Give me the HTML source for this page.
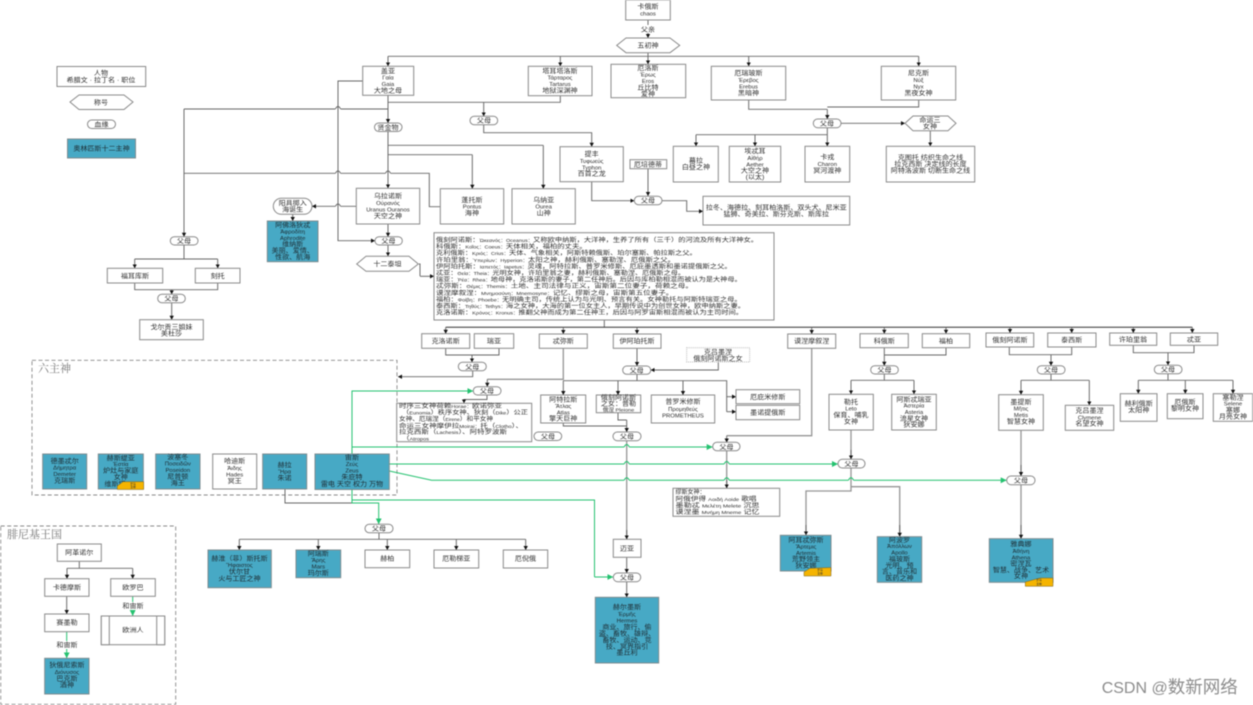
<!DOCTYPE html>
<html lang="zh">
<head>
<meta charset="utf-8">
<title>希腊神话谱系</title>
<style>
html,body{margin:0;padding:0;background:#fff;width:1253px;height:705px;overflow:hidden}
svg{display:block;filter:blur(.4px)}
text{font-family:"Liberation Sans","Noto Sans CJK SC",sans-serif;font-size:6.3px;fill:#2c2c2c;text-anchor:middle;transform-box:fill-box;transform-origin:center;transform:scaleX(1.12)}
.s{font-size:5.3px}
.x{font-size:4.5px}
.m text,text.f{font-size:6px;text-anchor:start;transform:none}
text.st{text-anchor:start;transform-origin:left center}
text.ti{text-anchor:start;transform:none;font-size:11px;fill:#777;font-family:"Liberation Serif","Noto Serif CJK SC",serif}
text.tag{font-size:2.8px;transform:none;fill:#333}
text.wm{text-anchor:start;transform:none;font-size:16px;fill:#8c8c8c}
.b rect,.b polygon{fill:#fff;stroke:#8a8a8a;stroke-width:1}
.u rect{fill:#47a9c5;stroke:#7f8c90;stroke-width:1}
.u text{fill:#1d2a30}
.l path{fill:none;stroke:#666;stroke-width:.95}
.a path{fill:none;stroke:#666;stroke-width:.95;marker-end:url(#k)}
.h path{fill:none;stroke:#959595;stroke-width:1.3}
.g path{fill:none;stroke:#25c270;stroke-width:1}
.ga path{fill:none;stroke:#25c270;stroke-width:1;marker-end:url(#gm)}
.t{fill:#f5b400;stroke:#77622a;stroke-width:.5}
</style>
</head>
<body>
<svg width="1253" height="705" viewBox="0 0 1253 705" xmlns="http://www.w3.org/2000/svg">
<defs>
<marker id="k" markerUnits="userSpaceOnUse" markerWidth="5" markerHeight="5" refX="4" refY="2.2" orient="auto"><path d="M0 0L4 2.2L0 4.4Z" fill="#111"/></marker>
<marker id="gm" markerUnits="userSpaceOnUse" markerWidth="7" markerHeight="7" refX="6" refY="3" orient="auto"><path d="M0 0L6 3L0 6Z" fill="#25c270"/></marker>
</defs>
<rect width="1253" height="705" fill="#fff"/>

<!-- dashed groups -->
<rect x="32" y="360.3" width="365" height="134.7" fill="none" stroke="#888" stroke-width=".9" stroke-dasharray="4 2.5"/>
<text x="38" y="372" class="ti">六主神</text>
<rect x=".7" y="526" width="175" height="178.3" fill="none" stroke="#888" stroke-width=".9" stroke-dasharray="4 2.5"/>
<text x="7" y="538" class="ti">腓尼基王国</text>

<!-- plain gray lines -->
<g class="l">
<path d="M388 56.3H918.7"/>
<path d="M388 102.3H560.3V95.7"/>
<path d="M388 109H341C340 109 340 106.5 338 106.5C336 106.5 336 109 335 109H184"/>
<path d="M388 145.3H543.3"/>
<path d="M388 154.7H472.3"/>
<path d="M440.3 206.7H429.3V173.3H391C390 173.3 390 171 388 171C386 171 386 173.3 385 173.3H341C340 173.3 340 171 338 171C336 171 336 173.3 335 173.3H184"/>
<path d="M184 245V259M134.7 259H217.7"/>
<path d="M134.7 283V289.7H217.7V283"/>
<path d="M748.7 100V109.3H827.3"/>
<path d="M918.7 100V107H827.3"/>
<path d="M827.3 127.7V134.7M696 134.7H827.3"/>
<path d="M419 264H420V276"/>
<path d="M604.3 320V327.3"/>
<path d="M445.7 348.3V355H499V348.3"/>
<path d="M637 374.3V380.7M563.3 380.7H726.7V411.7"/>
<path d="M563.3 423V426H626.7"/>
<path d="M618 412.7V420H626.7"/>
<path d="M884.3 374V380.3M851 380.3H914"/>
<path d="M946 347.7V355H884.3"/>
<path d="M1009.3 347V354.7H1071.7V347"/>
<path d="M1051 374V380.3M1021 380.3H1089.3"/>
<path d="M1133.3 345.3V352.7H1194V345.3"/>
<path d="M1168 373.7V380.3M1138.3 380.3H1233"/>
<path d="M79.3 561.3V568.3M67 568.3H132.7"/>
<path d="M379 532.7V539.3M239.3 539.3H525.7"/>
<path d="M285 489V503H352" />
</g>
<path d="M445.7 327.3H1192.3" fill="none" stroke="#333" stroke-width="1"/>

<!-- heavier gray -->
<g class="h">
<path d="M626.7 440.7V539"/>
<path d="M726.7 451V488"/>
<path d="M851 430V459"/>
<path d="M1021 430V476"/>
<path d="M1021 485V538"/>
<path d="M851 468V491H806V534"/>
<path d="M851 486.7H899.7V535"/>
<path d="M811.7 348.3V435.7H726.7"/>
<path d="M563.3 348.3V379.3H487.3"/>
</g>

<!-- arrows -->
<g class="a">
<path d="M648 20V38"/>
<path d="M388 56.3V66.3"/><path d="M560.3 56.3V66.3"/><path d="M648 52.7V64.3"/><path d="M748.7 56.3V66.3"/><path d="M918.7 56.3V66.3"/>
<path d="M388 95.3V123"/><path d="M388 131.5V188.3"/><path d="M388 224V236.7"/><path d="M388 245V256.3"/>
<path d="M483.7 102.3V116.3"/>
<path d="M483.7 124.7V132.7H591.7V146.7"/>
<path d="M543.3 145.3V188.7"/><path d="M472.3 154.7V188.7"/>
<path d="M184 109V236.7"/>
<path d="M362.7 81H338V240.7H375"/>
<path d="M356.3 206.3H341C340 206.3 340 204 338 204C336 204 336 206.3 335 206.3H312"/>
<path d="M292.7 214.3V221"/>
<path d="M134.7 259V268.3"/><path d="M217.7 259V268.3"/>
<path d="M171.7 289.7V294.3"/><path d="M171.7 302.7V319.7"/>
<path d="M827.3 109.3V119"/>
<path d="M840 123.3H905"/>
<path d="M930.3 130.7V146.3"/>
<path d="M696 134.7V146.3"/><path d="M755 134.7V146.3"/><path d="M827.3 134.7V146.3"/>
<path d="M648 168.7V196"/>
<path d="M591.7 181.7V200.7H634.3"/>
<path d="M662 200.7H686.7V211.3H703"/>
<path d="M420 276.3H434"/>
<path d="M445.7 327.3V333.7"/><path d="M563.3 327.3V334"/><path d="M637 327.3V334"/><path d="M811.7 327.3V334"/><path d="M884.3 327.3V333.7"/><path d="M946 327.3V333.7"/><path d="M1010 327.3V333"/><path d="M1071.7 327.3V333"/><path d="M1133.3 327.3V333"/><path d="M1192.3 327.3V333"/>
<path d="M472 355V362.3"/>
<path d="M472.7 370.7V376.7H398"/>
<path d="M487.3 379.3V386.7"/>
<path d="M487 395V399.5H464V403.3"/>
<path d="M637 348.3V366"/>
<path d="M718.3 362V370H650.7"/>
<path d="M563.3 380.7V395"/><path d="M618 380.7V395"/><path d="M683 380.7V395"/>
<path d="M726.7 396.7H736"/><path d="M726.7 411.7H736"/>
<path d="M626.7 420V432"/>
<path d="M726.7 435.7V442.5"/><path d="M726.7 480V488.3"/>
<path d="M884.3 347.7V365.7"/>
<path d="M851 380.3V394.3"/><path d="M914 380.3V394.3"/>
<path d="M851 450V459.3"/>
<path d="M806 525V535.3"/><path d="M899.7 525V536.7"/>
<path d="M1051 354.7V365.7"/>
<path d="M1021 380.3V394.7"/><path d="M1089.3 380.3V405.3"/>
<path d="M1021 465V476"/><path d="M1021 525V538.7"/>
<path d="M1168 352.7V365.3"/>
<path d="M1138.3 380.3V393.7"/><path d="M1185.3 380.3V393.7"/><path d="M1233 380.3V393.7"/>
<path d="M626.7 530V539.3"/><path d="M626.7 557.3V573"/><path d="M626.7 581.7V597.3"/>
<path d="M239.3 539.3V550"/><path d="M318.3 539.3V550"/><path d="M387.3 539.3V550"/><path d="M456.3 539.3V550"/><path d="M525.7 539.3V550"/>
<path d="M67 568.3V578.7"/><path d="M132.7 568.3V578.7"/>
<path d="M66.7 596.3V614"/>
</g>

<!-- green -->
<g class="g">
<path d="M352 454V447"/>
<path d="M352 489.5V503"/>
<path d="M352 500H594.5V577"/>
</g>
<g class="ga">
<path d="M352 454V391H473.3"/>
<path d="M352 447H623.7C624.7 447 624.7 444.5 626.7 444.5C628.7 444.5 628.7 447 629.7 447H712.7"/>
<path d="M389.3 464H623.7C624.7 464 624.7 461.5 626.7 461.5C628.7 461.5 628.7 464 629.7 464H723.7C724.7 464 724.7 461.5 726.7 461.5C728.7 461.5 728.7 464 729.7 464H838"/>
<path d="M389.3 471L431.7 480.3H623.7C624.7 480.3 624.7 477.8 626.7 477.8C628.7 477.8 628.7 480.3 629.7 480.3H723.7C724.7 480.3 724.7 477.8 726.7 477.8C728.7 477.8 728.7 480.3 729.7 480.3H848C849 480.3 849 477.8 851 477.8C853 477.8 853 480.3 854 480.3H1006.7"/>
<path d="M594.5 577H613.3"/>
<path d="M352 503H378.7V524.3"/>
<path d="M132.7 596.3V616"/>
<path d="M66.7 631.7V658.3"/>
</g>

<!-- label backgrounds on connectors -->
<rect x="638" y="25" width="20" height="8" fill="#fff"/>
<rect x="122" y="602" width="21" height="8" fill="#fff"/>
<rect x="56" y="641" width="21" height="8" fill="#fff"/>

<!-- white boxes & shapes -->
<g class="b">
<rect x="57" y="66.5" width="88.7" height="20"/>
<polygon points="70,102 79,95 124,95 133,102 124,109.5 79,109.5"/>
<rect x="87.5" y="120" width="28" height="8.5" rx="4.2"/>

<rect x="625.7" y="0" width="44.6" height="20"/>
<polygon points="616.7,45.4 626,38 670,38 679.7,45.4 670,52.7 626,52.7"/>
<rect x="362.7" y="66.3" width="51" height="29"/>
<rect x="528.3" y="66.3" width="63.7" height="29.4"/>
<rect x="611" y="64.3" width="74.7" height="33.4"/>
<rect x="711.3" y="66.3" width="74.4" height="33.7"/>
<rect x="881.3" y="66.3" width="74.4" height="33.7"/>

<rect x="374.5" y="123" width="27.5" height="8.5" rx="4.2"/>
<rect x="470" y="116.3" width="27.7" height="8.4" rx="4.2"/>
<rect x="560" y="146.7" width="63.3" height="35"/>
<rect x="356.3" y="188.3" width="63.4" height="35.7"/>
<rect x="440.3" y="188.7" width="63.4" height="35.3"/>
<rect x="512" y="188.7" width="63.3" height="35.3"/>
<rect x="273.3" y="198.3" width="38.7" height="16" rx="8"/>
<rect x="375" y="236.7" width="27.3" height="8.3" rx="4.1"/>
<rect x="170.3" y="236.7" width="27.7" height="8.3" rx="4.1"/>
<polygon points="356.7,264 366,256.3 409,256.3 418.3,264 409,271.3 366,271.3"/>
<rect x="107.3" y="268.3" width="55.4" height="14.7"/>
<rect x="195.3" y="268.3" width="44.7" height="14.7"/>
<rect x="157.7" y="294.3" width="27.6" height="8.4" rx="4.2"/>
<rect x="139.7" y="319.7" width="63.6" height="20"/>

<rect x="813.3" y="119" width="27.7" height="8.7" rx="4.3"/>
<polygon points="905,123.3 913,116 948,116 956,123.3 948,130.7 913,130.7"/>
<rect x="886.3" y="146.3" width="88.4" height="35.7"/>
<rect x="673.3" y="146.3" width="45" height="35.7"/>
<rect x="729.3" y="146.3" width="51.4" height="35.7"/>
<rect x="805" y="146.3" width="44.7" height="35.7"/>
<rect x="630" y="159.7" width="36.7" height="9"/>
<rect x="634.3" y="196.3" width="27.7" height="8.4" rx="4.2"/>
<rect x="703" y="196.3" width="146.7" height="28.7"/>

<rect x="434" y="232.7" width="340" height="87.3"/>

<rect x="421.7" y="333.7" width="48" height="14.6"/>
<rect x="474.3" y="333.7" width="39.4" height="14.6"/>
<rect x="539.3" y="334" width="48" height="14.3"/>
<rect x="613.3" y="334" width="47.7" height="14.3"/>
<rect x="787.7" y="334" width="48" height="14.3"/>
<rect x="860" y="333.7" width="48.3" height="14"/>
<rect x="922.3" y="333.7" width="47.4" height="14"/>
<rect x="986" y="333" width="47.7" height="14"/>
<rect x="1047.7" y="333" width="48.3" height="14"/>
<rect x="1109.7" y="333" width="47" height="12.3"/>
<rect x="1170.3" y="333" width="47.4" height="12.3"/>

<rect x="458.3" y="362.3" width="28" height="8.4" rx="4.2"/>
<rect x="473.3" y="386.7" width="27.7" height="8.3" rx="4.1"/>
<rect x="396.7" y="403.3" width="135" height="38.4"/>
<rect x="534" y="432" width="27.7" height="8.5" rx="4.2"/>
<rect x="622.7" y="366" width="28" height="8.3" rx="4.1"/>
<rect x="686.7" y="347.7" width="63" height="14.3" style="stroke-dasharray:1 1;stroke:#bbb"/>
<rect x="540.7" y="395" width="45" height="28"/>
<rect x="596.3" y="395" width="44.4" height="17.7"/>
<rect x="651.3" y="395" width="63.4" height="28"/>
<rect x="736" y="389.7" width="63.7" height="14"/>
<rect x="736" y="405.3" width="63.7" height="14.4"/>
<rect x="613" y="432" width="28" height="8.7" rx="4.3"/>
<rect x="712.7" y="442.3" width="27.3" height="8.4" rx="4.2"/>
<rect x="838" y="459.3" width="27" height="8.7" rx="4.3"/>
<rect x="1006.7" y="476" width="28.3" height="8.7" rx="4.3"/>
<rect x="673" y="488.3" width="106.7" height="28"/>

<rect x="870.7" y="365.7" width="27.6" height="8.3" rx="4.1"/>
<rect x="1037.3" y="365.7" width="27.7" height="8.3" rx="4.1"/>
<rect x="1154.3" y="365.3" width="27.7" height="8.4" rx="4.2"/>
<rect x="829" y="394.3" width="44.3" height="35.7"/>
<rect x="891.7" y="394.3" width="44.6" height="35.7"/>
<rect x="998.7" y="394.7" width="44.6" height="35.6"/>
<rect x="1065.3" y="405.3" width="48.4" height="25"/>
<rect x="1120.3" y="393.7" width="36.7" height="27.6"/>
<rect x="1167.3" y="393.7" width="35.7" height="25"/>
<rect x="1213.3" y="393.7" width="39.4" height="27.6"/>

<rect x="212.7" y="454" width="44" height="35"/>
<rect x="365" y="524.3" width="28" height="8.4" rx="4.2"/>
<rect x="365" y="550" width="44.7" height="17.7"/>
<rect x="434" y="550" width="44.7" height="18"/>
<rect x="503.3" y="550" width="44.4" height="18"/>
<rect x="613.3" y="539.3" width="27.7" height="18"/>
<rect x="613.3" y="573" width="27.4" height="8.7" rx="4.3"/>

<rect x="57.3" y="544" width="44" height="17.3"/>
<rect x="44.7" y="578.7" width="44.3" height="17.6"/>
<rect x="110.7" y="578.7" width="44.6" height="17.6"/>
<rect x="44.7" y="614" width="44.3" height="17.7"/>
<rect x="101.3" y="616" width="63.4" height="28.7"/>
<rect x="101.3" y="616" width="8" height="28.7"/>
<rect x="156.7" y="616" width="8" height="28.7"/>
</g>

<!-- blue boxes -->
<g class="u">
<rect x="67.5" y="139" width="68" height="19"/>
<rect x="267.3" y="221" width="50.7" height="40.7"/>
<rect x="42.7" y="454" width="44" height="35"/>
<rect x="98.3" y="454" width="45" height="35"/>
<rect x="155.7" y="454" width="44.3" height="35"/>
<rect x="262.7" y="454" width="44" height="35"/>
<rect x="315" y="454" width="74.3" height="35.5"/>
<rect x="208" y="550" width="63.3" height="37.7"/>
<rect x="296" y="550" width="44.7" height="27.7"/>
<rect x="595.3" y="597.3" width="63.4" height="65.7"/>
<rect x="780.3" y="535.3" width="50.7" height="35.7"/>
<rect x="877.3" y="536.7" width="44.4" height="45.6"/>
<rect x="989.3" y="538.7" width="63.7" height="43.6"/>
<rect x="44.7" y="658.3" width="44.3" height="35.7"/>
</g>

<!-- labels -->
<text x="101" y="75">人物</text>
<text x="101" y="82">希腊文 · 拉丁名 · 职位</text>
<text x="101" y="104.3">称号</text>
<text x="101.5" y="126.5">血缘</text>
<text x="101.5" y="150.5" style="fill:#1d2a30">奥林匹斯十二主神</text>

<text x="648" y="8.5">卡俄斯</text><text x="648" y="15.5" class="s">chaos</text>
<text x="648" y="31.5">父亲</text>
<text x="648" y="47.7">五初神</text>
<text x="388" y="73">盖亚</text><text x="388" y="79.5" class="s">Γαία</text><text x="388" y="86" class="s">Gaia</text><text x="388" y="92.5">大地之母</text>
<text x="560" y="73">塔耳塔洛斯</text><text x="560" y="79.5" class="s">Τάρταρος</text><text x="560" y="86" class="s">Tartarus</text><text x="560" y="92.5">地狱深渊神</text>
<text x="648" y="70">厄洛斯</text><text x="648" y="76.5" class="s">Έρως</text><text x="648" y="83" class="s">Eros</text><text x="648" y="89.5">丘比特</text><text x="648" y="96">爱神</text>
<text x="748.5" y="75">厄瑞玻斯</text><text x="748.5" y="82" class="s">Έρεβος</text><text x="748.5" y="88.5" class="s">Erebus</text><text x="748.5" y="95">黑暗神</text>
<text x="918.5" y="75">尼克斯</text><text x="918.5" y="82" class="s">Νύξ</text><text x="918.5" y="88.5" class="s">Nyx</text><text x="918.5" y="95">黑夜女神</text>

<text x="388" y="129.5">贤金物</text>
<text x="484" y="122.7">父母</text>
<text x="827" y="125.7">父母</text>
<text x="930" y="122">命运三</text><text x="930" y="128.5">女神</text>
<text x="930.5" y="159.5">克图托 纺织生命之线</text><text x="930.5" y="166">拉克西斯 决定线的长度</text><text x="930.5" y="172.5">阿特洛波斯 切断生命之线</text>
<text x="696" y="162.5">幕拉</text><text x="696" y="169">白昼之神</text>
<text x="755" y="153">埃忒耳</text><text x="755" y="160" class="s">Αἰθήρ</text><text x="755" y="166.5" class="s">Aether</text><text x="755" y="172.5">大空之神</text><text x="755" y="179">(以太)</text>
<text x="827.3" y="159">卡戎</text><text x="827.3" y="166" class="s">Charon</text><text x="827.3" y="172.5">冥河渡神</text>
<text x="591.7" y="156">提丰</text><text x="591.7" y="163" class="s">Τυφωεύς</text><text x="591.7" y="169.5" class="s">Typhon</text><text x="591.7" y="175.5">百首之龙</text>
<text x="648" y="166.5">厄培德蒂</text>
<text x="648" y="202.7">父母</text>
<text x="776.3" y="209.5">拉冬、海德拉、刻耳柏洛斯、双头犬、尼米亚</text><text x="776.3" y="216">猛狮、奇美拉、斯芬克斯、斯库拉</text>

<text x="388" y="198">乌拉诺斯</text><text x="388" y="205" class="s">Ούρανός</text><text x="388" y="211.5" class="s">Uranus Ouranos</text><text x="388" y="218">天空之神</text>
<text x="472" y="202">蓬托斯</text><text x="472" y="208.5" class="s">Pontus</text><text x="472" y="215">海神</text>
<text x="543.7" y="202">乌纳亚</text><text x="543.7" y="208.5" class="s">Ourea</text><text x="543.7" y="215">山神</text>
<text x="292.7" y="205">阳具掷入</text><text x="292.7" y="211.5">海诞生</text>
<g class="u">
<text x="292.7" y="227">阿佛洛狄忒</text><text x="292.7" y="233.5" class="s">Ἀφροδίτη</text><text x="292.7" y="240" class="s">Aphrodite</text><text x="292.7" y="246">维纳斯</text><text x="292.7" y="252.5">美丽、爱情、</text><text x="292.7" y="259">性欲、航海</text>
</g>
<text x="388.5" y="243">父母</text>
<text x="184" y="243">父母</text>
<text x="387.5" y="266">十二泰坦</text>
<text x="135" y="278">福耳库斯</text><text x="217.7" y="278">刻托</text>
<text x="171.5" y="300.7">父母</text>
<text x="171.5" y="329">戈尔贡三姐妹</text><text x="171.5" y="335.5">美杜莎</text>

<g class="m">
<text x="436" y="242" textLength="322" lengthAdjust="spacingAndGlyphs">俄刻阿诺斯：<tspan class="x">Ὠκεανός：Oceanus：</tspan>又称欧申纳斯，大洋神，生养了所有（三千）的河流及所有大洋神女。</text>
<text x="436" y="248.6" textLength="150.7" lengthAdjust="spacingAndGlyphs">科俄斯：<tspan class="x">Κοῖος：Coeus：</tspan>天体相关，福柏的丈夫。</text>
<text x="436" y="255.2" textLength="260.7" lengthAdjust="spacingAndGlyphs">克利俄斯：<tspan class="x">Κριός：Crius：</tspan>天体、气象相关，阿斯特赖俄斯、珀尔塞斯、帕拉斯之父。</text>
<text x="436" y="261.8" textLength="239" lengthAdjust="spacingAndGlyphs">许珀里翁：<tspan class="x">Ὑπερίων：Hyperion：</tspan>太阳之神，赫利俄斯、塞勒涅、厄俄斯之父。</text>
<text x="436" y="268.4" textLength="295.7" lengthAdjust="spacingAndGlyphs">伊阿珀托斯：<tspan class="x">Ιαπετός：Iapetus：</tspan>灵魂，阿特拉斯、普罗米修斯、厄庇墨透斯和墨诺提俄斯之父。</text>
<text x="436" y="275" textLength="249" lengthAdjust="spacingAndGlyphs">忒亚：<tspan class="x">Θεία：Theia：</tspan>光明女神，许珀里翁之妻，赫利俄斯、塞勒涅、厄俄斯之母。</text>
<text x="436" y="281.6" textLength="305.7" lengthAdjust="spacingAndGlyphs">瑞亚：<tspan class="x">Ῥέα：Rhea：</tspan>地母神，克洛诺斯的妻子，第二任神后。后因与库柏勒相混而被认为是大神母。</text>
<text x="436" y="288.2" textLength="257" lengthAdjust="spacingAndGlyphs">忒弥斯：<tspan class="x">Θέμις：Themis：</tspan>土地、主司法律与正义，宙斯第二位妻子，荷赖之母。</text>
<text x="436" y="294.8" textLength="237.3" lengthAdjust="spacingAndGlyphs">谟涅摩叙涅：<tspan class="x">Μνημοσύνη：Mnemosyne：</tspan>记忆、缪斯之母，宙斯第五位妻子。</text>
<text x="436" y="301.4" textLength="305.7" lengthAdjust="spacingAndGlyphs">福柏：<tspan class="x">Φοίβη：Phoebe：</tspan>无明确主司，传统上认为与光明、预言有关。女神勒托与阿斯特瑞亚之母。</text>
<text x="436" y="308" textLength="309" lengthAdjust="spacingAndGlyphs">泰西斯：<tspan class="x">Τηθύς：Tethys：</tspan>海之女神，大海的第一位女主人，早期传说中为创世女神，欧申纳斯之妻。</text>
<text x="436" y="314.6" textLength="307" lengthAdjust="spacingAndGlyphs">克洛诺斯：<tspan class="x">Κρόνος：Kronus：</tspan>推翻父神而成为第二任神王，后因与阿罗宙斯相混而被认为主司时间。</text>
</g>

<text x="445.7" y="343.2">克洛诺斯</text><text x="494" y="343.2">瑞亚</text><text x="563.3" y="343.2">忒弥斯</text><text x="637" y="343.2">伊阿珀托斯</text><text x="811.7" y="343.2">谟涅摩叙涅</text>
<text x="884.3" y="343">科俄斯</text><text x="946" y="343">福柏</text><text x="1010" y="342">俄刻阿诺斯</text><text x="1071.7" y="342">泰西斯</text><text x="1133" y="341.5">许珀里翁</text><text x="1194" y="341.5">忒亚</text>
<text x="472.3" y="368.8">父母</text><text x="487" y="393">父母</text><text x="636.7" y="372.5">父母</text><text x="548" y="438.5">父母</text><text x="627" y="438.5">父母</text><text x="726.5" y="448.8">父母</text><text x="851.5" y="465.8">父母</text><text x="1021" y="482.5">父母</text>
<text x="884.5" y="372">父母</text><text x="1051" y="372">父母</text><text x="1168" y="371.5">父母</text><text x="379" y="530.5">父母</text><text x="627" y="579.5">父母</text>
<text x="718" y="354">克吕墨涅</text><text x="718" y="360.5">俄刻阿诺斯之女</text>

<text x="399" y="408" class="f" textLength="103" lengthAdjust="spacingAndGlyphs">时序三女神荷赖<tspan class="x">Horae：</tspan>欧诺弥亚</text>
<text x="402" y="414.6" class="f" textLength="126" lengthAdjust="spacingAndGlyphs">（<tspan class="x">Eunomia</tspan>）秩序女神、狄刻（<tspan class="x">Dike</tspan>）公正</text>
<text x="399" y="421.2" class="f" textLength="94" lengthAdjust="spacingAndGlyphs">女神、厄瑞涅（<tspan class="x">Eirene</tspan>）和平女神</text>
<text x="399" y="427.8" class="f" textLength="124" lengthAdjust="spacingAndGlyphs">命运三女神摩伊拉<tspan class="x">Moirai：</tspan>托（<tspan class="x">Clotho</tspan>）、</text>
<text x="399" y="434.2" class="f" textLength="108" lengthAdjust="spacingAndGlyphs">拉克西斯（<tspan class="x">Lachesis</tspan>）、阿特罗波斯</text>
<text x="402" y="440.6" class="f" textLength="27" lengthAdjust="spacingAndGlyphs">（<tspan class="x">Atropos</tspan></text>

<text x="563.3" y="401.5">阿特拉斯</text><text x="563.3" y="408" class="s">Ἄτλας</text><text x="563.3" y="414.5" class="s">Atlas</text><text x="563.3" y="420.5">擎天巨神</text>
<text x="618.5" y="399.5">俄刻阿诺斯</text><text x="618.5" y="405.5">之女：普勒</text><text x="618.5" y="411.5" style="font-size:5px">俄涅 Pleione</text>
<text x="683" y="403.5">普罗米修斯</text><text x="683" y="411" class="s">Προμηθεύς</text><text x="683" y="417.5" class="s">PROMETHEUS</text>
<text x="767.8" y="399">厄庇米修斯</text><text x="767.8" y="414.5">墨诺提俄斯</text>

<text x="851" y="404">勒托</text><text x="851" y="410.5" class="s">Leto</text><text x="851" y="417">保育、哺乳</text><text x="851" y="423.5">女神</text>
<text x="914" y="401.5">阿斯忒瑞亚</text><text x="914" y="407.5" class="s">Ἀστερία</text><text x="914" y="414" class="s">Asteria</text><text x="914" y="420.5">流星女神</text><text x="914" y="426.5">狄安娜</text>
<text x="1021" y="404">墨提斯</text><text x="1021" y="410.5" class="s">Μῆτις</text><text x="1021" y="417" class="s">Metis</text><text x="1021" y="423.5">智慧女神</text>
<text x="1089.5" y="412.5">克吕墨涅</text><text x="1089.5" y="419.5" class="s">Clymene</text><text x="1089.5" y="425.5">名望女神</text>
<text x="1138.7" y="405.5">赫利俄斯</text><text x="1138.7" y="412">太阳神</text>
<text x="1185" y="404">厄俄斯</text><text x="1185" y="410.5">黎明女神</text>
<text x="1233" y="399.5">塞勒涅</text><text x="1233" y="405.5" class="s">Selene</text><text x="1233" y="412">塞娜</text><text x="1233" y="418.5">月亮女神</text>

<g class="u">
<text x="64.7" y="463">德墨忒尔</text><text x="64.7" y="469.5" class="s">Δήμητρα</text><text x="64.7" y="476" class="s">Demeter</text><text x="64.7" y="482.5">克瑞斯</text>
<text x="120.8" y="460">赫斯缇亚</text><text x="120.8" y="466" class="s">Έστία</text><text x="120.8" y="472.5">炉灶与家庭</text><text x="120.8" y="479">女神</text><text x="115" y="486">维斯塔</text>
<text x="177.8" y="459">波塞冬</text><text x="177.8" y="465.5" class="s">Ποσειδῶν</text><text x="177.8" y="472" class="s">Poseidon</text><text x="177.8" y="478.5">尼普顿</text><text x="177.8" y="485">海王</text>
</g>
<text x="234.7" y="463">哈迪斯</text><text x="234.7" y="470" class="s">Άιδης</text><text x="234.7" y="476.5" class="s">Hades</text><text x="234.7" y="483">冥王</text>
<g class="u">
<text x="284.7" y="467">赫拉</text><text x="284.7" y="473.5" class="s">Ἥρα</text><text x="284.7" y="480">朱诺</text>
<text x="352" y="459.5">宙斯</text><text x="352" y="466" class="s">Ζεύς</text><text x="352" y="472.5" class="s">Zeus</text><text x="352" y="479">朱庇特</text><text x="352" y="486">雷电 天空 权力 万物</text>
</g>

<text x="675.5" y="494" class="f" textLength="30" lengthAdjust="spacingAndGlyphs">缪斯女神：</text>
<text x="675.5" y="500.8" class="f" textLength="81" lengthAdjust="spacingAndGlyphs">阿俄伊得 <tspan class="x">Αοιδή Aoide</tspan> 歌唱</text>
<text x="675.5" y="507.5" class="f" textLength="84" lengthAdjust="spacingAndGlyphs">墨勒忒 <tspan class="x">Μελέτη Melete</tspan> 沉思</text>
<text x="675.5" y="514" class="f" textLength="84" lengthAdjust="spacingAndGlyphs">谟涅墨 <tspan class="x">Μνήμη Mneme</tspan> 记忆</text>

<text x="627" y="550.5">迈亚</text>
<g class="u">
<text x="239.5" y="560.5">赫淮（菲）斯托斯</text><text x="239.5" y="567" class="s">Ἥφαιστος</text><text x="239.5" y="573.5">伏尔甘</text><text x="239.5" y="580.5">火与工匠之神</text>
<text x="318.3" y="555.5">阿瑞斯</text><text x="318.3" y="562" class="s">Ἄρης</text><text x="318.3" y="568.5" class="s" style="font-size:5.5px">Mars</text><text x="318.3" y="575">玛尔斯</text>
</g>
<text x="387.3" y="560.5">赫柏</text><text x="456.3" y="560.5">厄勒梯亚</text><text x="525.5" y="560.5">厄倪俄</text>

<g class="u">
<text x="627" y="609">赫尔墨斯</text><text x="627" y="616" class="s">Ἑρμῆς</text><text x="627" y="622.5" class="s">Hermes</text><text x="627" y="629">商业、旅行、偷</text><text x="627" y="635.5">盗、畜牧、雄辩、</text><text x="627" y="642">畜牧、运动、竞</text><text x="627" y="648.5">技、冥界指引</text><text x="627" y="654.5">墨丘利</text>
<text x="806" y="542">阿耳忒弥斯</text><text x="806" y="548.5" class="s">Ἄρτεμις</text><text x="806" y="555" class="s">Artemis</text><text x="806" y="561">荒野领主</text><text x="806" y="567.5">狄安娜</text>
<text x="899.5" y="542">阿波罗</text><text x="899.5" y="548" class="s">Ἀπόλλων</text><text x="899.5" y="554.5" class="s">Apollo</text><text x="899.5" y="561">福玻斯</text><text x="899.5" y="567.5">光明、预</text><text x="899.5" y="573.5">言、音乐和</text><text x="899.5" y="580">医药之神</text>
<text x="1021" y="546">雅典娜</text><text x="1021" y="553" class="s">Ἀθήνη</text><text x="1021" y="559.5" class="s">Athena</text><text x="1021" y="565.5">密涅瓦</text><text x="1021" y="572">智慧、战争、艺术</text><text x="1021" y="578">女神</text>
</g>

<!-- yellow tags over the blue boxes -->
<polygon class="t" points="117.3,489.5 117.3,486 123,481.7 143.7,481.7 143.7,489.5"/>
<text x="133" y="485" class="tag">罗马</text><text x="133" y="488" class="tag">主神</text>
<polygon class="t" points="804,576 804,572 810,568.3 831,567.5 831,576"/>
<text x="820" y="571" class="tag">罗马</text><text x="820" y="574.5" class="tag">主神</text>
<polygon class="t" points="1025.3,586.3 1025.3,582 1040,578 1053,578 1053,586.3"/>
<text x="1039" y="581" class="tag">罗马</text><text x="1039" y="585" class="tag">主神</text>

<text x="133" y="608">和宙斯</text><text x="67" y="647">和宙斯</text>
<text x="79.3" y="554.5">阿革诺尔</text><text x="67" y="589.5">卡德摩斯</text><text x="133" y="589.5">欧罗巴</text><text x="67" y="624.5">赛墨勒</text><text x="133" y="632">欧洲人</text>
<g class="u">
<text x="67" y="667">狄俄尼索斯</text><text x="67" y="674" class="s">Διόνυσος</text><text x="67" y="680.5">巴克斯</text><text x="67" y="687">酒神</text>
</g>

<text x="1101.7" y="693" class="wm">CSDN @<tspan style="font-size:17.5px">数新网络</tspan></text>
</svg>
</body>
</html>
